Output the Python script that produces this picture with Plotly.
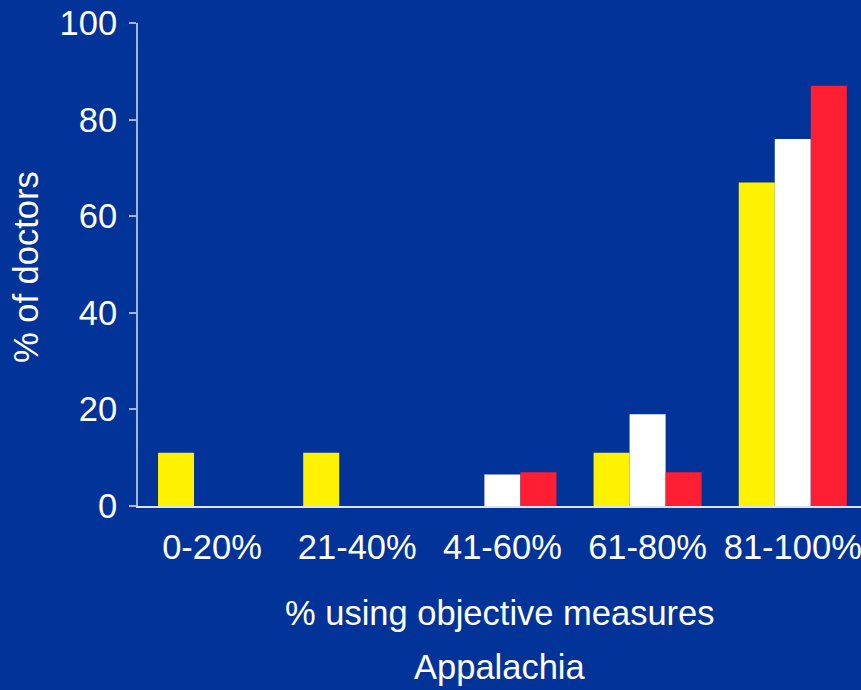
import plotly.graph_objects as go

# Share of doctors by % of patients assessed with objective measures
categories = ["0-20%", "21-40%", "41-60%", "61-80%", "81-100%"]
series_names = ["Yellow group", "White group", "Red group"]
yellow_vals = [11, 11, 0, 11, 67]
white_vals = [0, 0, 6.5, 19, 76]
red_vals = [0, 0, 7, 7, 87]
y_ticks = [0, 20, 40, 60, 80, 100]

BG = "#023399"
FONT = "Liberation Sans, Arial, sans-serif"
FS = 34.5
colors = ["#FFF200", "#FFFFFF", "#FF1E32"]

fig = go.Figure()
for name, vals, col in zip(series_names, [yellow_vals, white_vals, red_vals], colors):
    fig.add_trace(go.Bar(
        x=categories, y=vals, name=name,
        marker=dict(color=col, line=dict(width=0)),
    ))

fig.update_layout(
    width=861, height=690,
    paper_bgcolor=BG, plot_bgcolor=BG,
    barmode="group", bargap=0.256, bargroupgap=0,
    showlegend=False,
    margin=dict(l=138, r=0, t=23, b=184),
    font=dict(family=FONT, size=FS, color="white"),
)

fig.update_xaxes(
    range=[-0.51, 4.47],
    showline=True, linecolor="#DDE3F0", linewidth=2,
    showgrid=False, zeroline=False,
    ticks="", ticklabelstandoff=10,
    tickfont=dict(family=FONT, size=FS, color="white"),
)
fig.update_yaxes(
    range=[0, 100], tickvals=y_ticks,
    showline=True, linecolor="rgba(190,202,232,0.85)", linewidth=2,
    ticks="outside", ticklen=7, tickwidth=2, tickcolor="rgba(190,202,232,0.85)",
    showgrid=False, zeroline=False, ticklabelstandoff=5,
    tickfont=dict(family=FONT, size=FS, color="white"),
)

# Axis titles placed as annotations
fig.add_annotation(
    text="% using objective measures", xref="paper", yref="paper",
    x=0.5, y=-(613 - 506) / 483, xanchor="center", yanchor="middle",
    showarrow=False, font=dict(family=FONT, size=FS, color="white"),
)
fig.add_annotation(
    text="Appalachia", xref="paper", yref="paper",
    x=0.5, y=-(667 - 506) / 483, xanchor="center", yanchor="middle",
    showarrow=False, font=dict(family=FONT, size=FS, color="white"),
)
fig.add_annotation(
    text="% of doctors", xref="paper", yref="paper",
    x=-(138 - 26) / 723, y=(506 - 267) / 483, xanchor="center", yanchor="middle",
    textangle=-90, showarrow=False,
    font=dict(family=FONT, size=FS, color="white"),
)

fig.write_html("out.html")
